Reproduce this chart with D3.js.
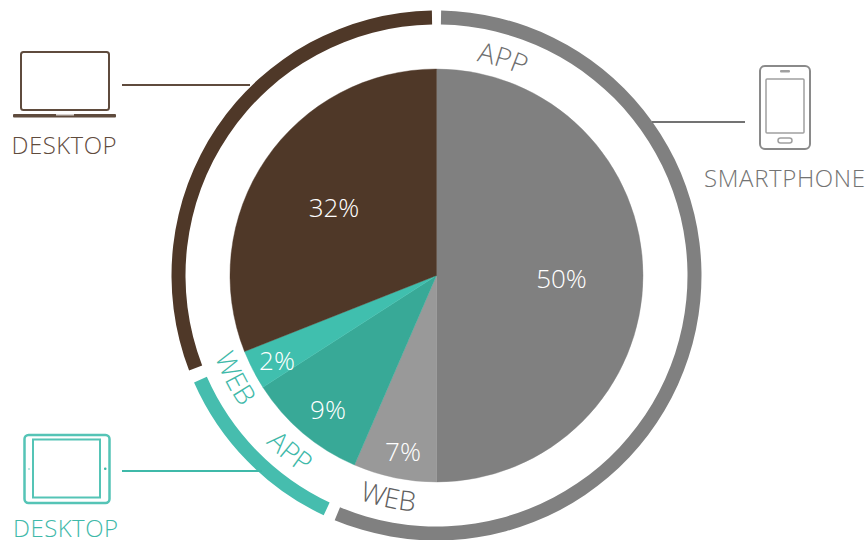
<!DOCTYPE html>
<html><head><meta charset="utf-8">
<script src="https://cdn.jsdelivr.net/npm/d3@7"></script>
<style>html,body{margin:0;padding:0;background:#fff}svg{display:block}text{font-family:"Open Sans",sans-serif;font-weight:300}</style>
</head><body><svg id="c" width="865" height="540"></svg>
<script>
const sliceNames = ["Smartphone app","Smartphone web","Tablet app","Tablet web","Desktop"];
const sliceShares = [50,6.5,9.4,3.1,31];
const sliceLabels = ["50%","7%","9%","2%","32%"];
const sliceColors = ["#808080","#999999","#38a997","#40bfae","#4f3828"];
const ringStarts = [1,205.2,249];
const ringEnds = [202.6,246.2,359];
const ringColors = ["#808080","#46bdae","#4f3828"];
const arcWords = ["APP","WEB","APP","WEB"];
const arcWordAngles = [17,192.2,219.7,243];
const arcWordRadii = [218,237,239,236];
const arcWordColors = ["#6e6e6e","#606060","#3fb9a9","#3fb9a9"];
const arcWordReverse = [false,true,true,true];
const deviceNames = ["DESKTOP","SMARTPHONE","DESKTOP"];
const deviceColors = ["#5f4b3d","#737373","#3fb9a9"];

const W=865,H=540,cx=436.5,cy=275.5,R=206.5;
const svg=d3.select("#c");
const deg=d3.scaleLinear().domain([0,360]).range([0,2*Math.PI]);
const g=svg.append("g").attr("transform",`translate(${cx},${cy})`);

// pie
const pie=d3.pie().sort(null).value(d=>d);
const arcs=pie(sliceShares);
const arc=d3.arc().innerRadius(0).outerRadius(R);
g.selectAll("path.s").data(arcs).join("path").attr("class","s").attr("d",arc)
 .attr("fill",(d,i)=>sliceColors[i]).attr("stroke",(d,i)=>sliceColors[i]).attr("stroke-width",0.4);

// pie labels
const labelPos=[[125,12.5],[-33.5,185],[-108.5,143.5],[-159.5,94],[-102.5,-58.5]];
g.selectAll("text.l").data(sliceLabels).join("text").attr("class","l")
 .attr("x",(d,i)=>labelPos[i][0]).attr("y",(d,i)=>labelPos[i][1])
 .attr("text-anchor","middle").attr("fill","#fff").attr("font-size",26).text(d=>d);

// outer ring
const ring=d3.arc().innerRadius(251).outerRadius(265);
g.selectAll("path.r").data(ringStarts).join("path").attr("class","r")
 .attr("d",(d,i)=>ring({startAngle:deg(d),endAngle:deg(ringEnds[i])}))
 .attr("fill",(d,i)=>ringColors[i]);

// curved words
const defs=svg.append("defs");
arcWords.forEach((w,i)=>{
  const a=deg(arcWordAngles[i])-Math.PI/2, rev=arcWordReverse[i];
  const r=arcWordRadii[i], span=0.6;
  const p=d3.path();
  p.arc(cx,cy,r,rev?a+span:a-span,rev?a-span:a+span,rev);
  defs.append("path").attr("id","wp"+i).attr("d",p.toString());
  svg.append("text").attr("font-size",27.5).attr("fill",arcWordColors[i])
   .append("textPath").attr("href","#wp"+i).attr("startOffset","50%").attr("text-anchor","middle").text(w);
});

// connector lines
const lines=[[122,250,85,0],[652,745,122,1],[122,262,471,2]];
svg.selectAll("line.c").data(lines).join("line").attr("class","c")
 .attr("x1",d=>d[0]).attr("x2",d=>d[1]).attr("y1",d=>d[2]).attr("y2",d=>d[2])
 .attr("stroke",d=>deviceColors[d[3]]).attr("stroke-width",2);

// icons
function box(x,y,w,h,r,c,sw,fill){svg.append("rect").attr("x",x).attr("y",y).attr("width",w).attr("height",h).attr("rx",r)
 .attr("fill",fill||"none").attr("stroke",fill?"none":c).attr("stroke-width",sw||2);}
const c0=deviceColors[0],c1="#8a8a8a",c2=deviceColors[2];
box(21,52,88,58,2.5,c0,2);
box(13,114,103,3.5,1,c0,0,c0);
box(56,114,18,1.5,0,"#fff",0,"#d9d3cf");
box(760,66,50,83,5,c1,2);
box(766,79,38,54,1,"#a0a0a0",1.5);
box(780,70,10,2.5,1,"#a0a0a0",0,"#a0a0a0");
box(778,138,14,5,2.5,"#a0a0a0",1.5);
box(24.5,435,85,68,4,"#55c4b6",2.5);
box(33,439.5,67,58,0,"#55c4b6",2);
box(28,468,2,2,1,c2,0,"#a5e0d8");
box(104,467.5,2.5,2.5,1,c2,0,c2);

// device labels
const nameX=[64,784.5,65.5],nameY=[154,187,537],nameW=[105,161,105];
svg.selectAll("text.d").data(deviceNames).join("text").attr("class","d")
 .attr("x",(d,i)=>nameX[i]).attr("y",(d,i)=>nameY[i]).attr("text-anchor","middle")
 .attr("font-size",24).attr("textLength",(d,i)=>nameW[i]).attr("lengthAdjust","spacing")
 .attr("fill",(d,i)=>deviceColors[i]).text(d=>d);
</script></body></html>
